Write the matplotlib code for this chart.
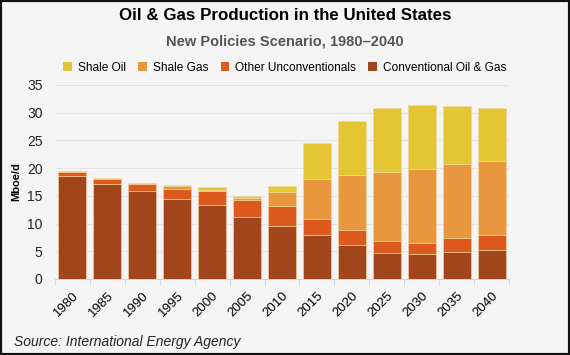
import numpy as np
import matplotlib.pyplot as plt
from matplotlib.patches import Rectangle, Patch

plt.rcParams['font.family'] = ['Liberation Sans', 'DejaVu Sans']

# 数据
years = ['1980', '1985', '1990', '1995', '2000', '2005', '2010',
         '2015', '2020', '2025', '2030', '2035', '2040']
conventional = [18.6, 17.2, 15.8, 14.5, 13.4, 11.1, 9.6, 8.0, 6.2, 4.7, 4.6, 4.9, 5.2]
other_unconv = [0.7, 0.9, 1.3, 1.8, 2.4, 3.1, 3.6, 2.9, 2.6, 2.1, 1.9, 2.5, 2.8]
shale_gas = [0.1, 0.1, 0.15, 0.4, 0.3, 0.4, 2.5, 7.1, 9.9, 12.5, 13.4, 13.3, 13.2]
shale_oil = [0.0, 0.0, 0.05, 0.2, 0.5, 0.4, 1.1, 6.5, 9.8, 11.6, 11.5, 10.6, 9.7]

series = [
    ('Shale Oil', shale_oil, '#e4c534'),
    ('Shale Gas', shale_gas, '#e8973e'),
    ('Other Unconventionals', other_unconv, '#dd5a1f'),
    ('Conventional Oil & Gas', conventional, '#a0451c'),
]

fig = plt.figure(figsize=(5.7, 3.55), dpi=100, facecolor='#f5f5f5')
ax = fig.add_axes([55 / 570, 1 - 279 / 355, 454 / 570, 194 / 355])
ax.set_facecolor('#f5f5f5')

x = np.arange(len(years))
bottom = np.zeros(len(years))
# 从底部开始堆叠
for name, vals, col in series[::-1]:
    ax.bar(x, vals, 0.8, bottom=bottom, color=col, edgecolor='#f3d9a0',
           linewidth=0.4, zorder=3)
    bottom += np.array(vals)

ax.set_xlim(-0.5, len(years) - 0.5)
ax.set_ylim(0, 35)
ax.set_yticks(range(0, 36, 5))
ax.yaxis.grid(True, color='#e4e4e4', linewidth=0.8, zorder=0)
ax.tick_params(axis='y', length=0, labelsize=10, pad=9, colors='#222222')
ax.set_xticks(x)
ax.set_xticklabels(years, rotation=45, fontsize=9.5, ha='right',
                   rotation_mode='anchor')
ax.set_xticks(np.arange(-0.5, len(years), 1), minor=True)
ax.tick_params(axis='x', which='major', length=0, pad=8)
ax.tick_params(axis='x', which='minor', length=4, color='#c9d5ea')
for s in ['top', 'right', 'left']:
    ax.spines[s].set_visible(False)
ax.spines['bottom'].set_color('#c9d5ea')

ax.set_ylabel('Mboe/d', fontsize=8, fontweight='bold')
ax.yaxis.set_label_coords((21 - 55) / 454, 0.5)

fig.text(0.5, 1 - 16 / 355, 'Oil & Gas Production in the United States',
         ha='center', va='center', fontsize=12.2, fontweight='bold')
fig.text(0.5, 1 - 42 / 355, 'New Policies Scenario, 1980\u20132040',
         ha='center', va='center', fontsize=10.5, fontweight='bold',
         color='#555555')

handles = [Patch(facecolor=c, label=n) for n, v, c in series]
fig.legend(handles=handles, loc='center', bbox_to_anchor=(0.5, 1 - 68 / 355),
           ncol=4, frameon=False, fontsize=8.6, handlelength=0.75,
           handleheight=0.75, handletextpad=0.5, columnspacing=1.0)

fig.text(14 / 570, 1 - 342 / 355, 'Source: International Energy Agency',
         ha='left', va='center', fontsize=10, style='italic', color='#222222')

fig.patches.append(Rectangle((0, 0), 1, 1, transform=fig.transFigure,
                             fill=False, edgecolor='#111111', linewidth=3))

fig.savefig('out.png', dpi=100, facecolor=fig.get_facecolor())
